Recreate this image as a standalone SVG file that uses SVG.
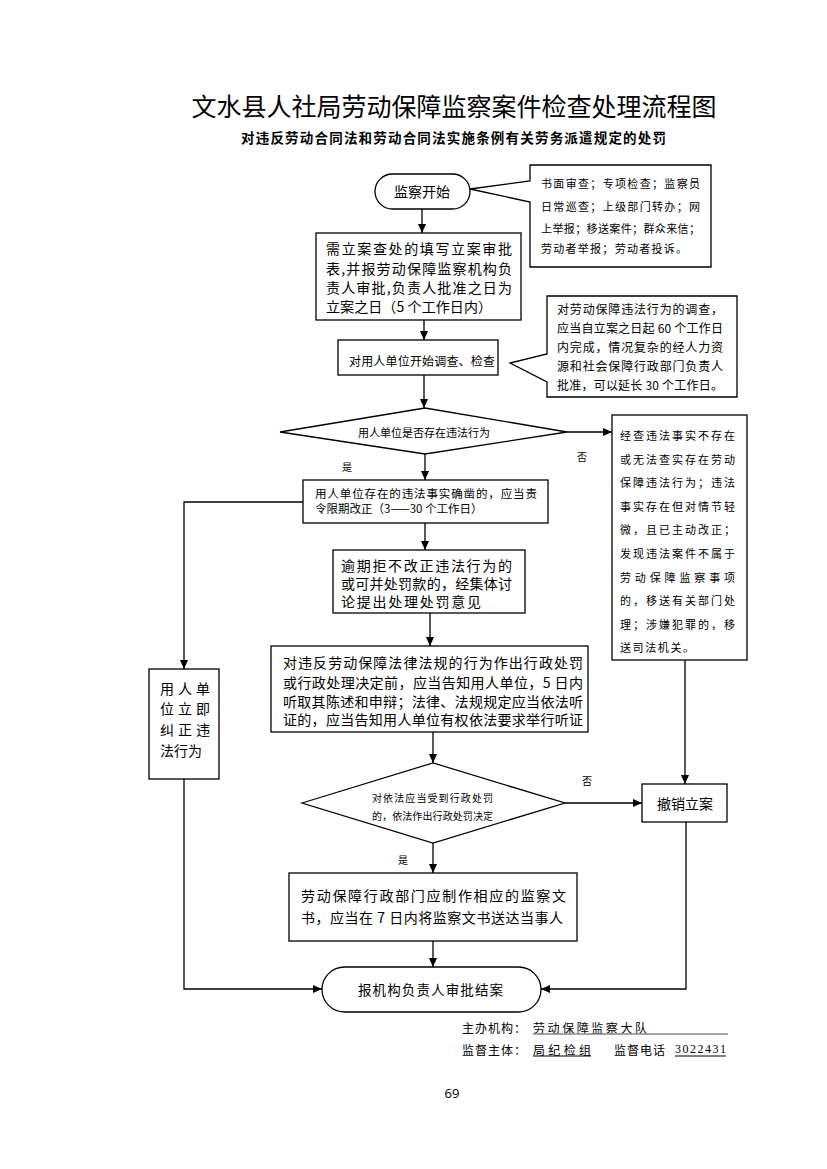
<svg xmlns="http://www.w3.org/2000/svg" width="827" height="1169" viewBox="0 0 827 1169">
<style>
text{font-family:"Noto Sans CJK SC","Noto Sans",sans-serif;fill:#000;dominant-baseline:central}
.box{fill:#fff;stroke:#000;stroke-width:1.3}
.ln{fill:none;stroke:#000;stroke-width:1.3}
.arr{marker-end:url(#ah)}
.c{text-anchor:middle}
.f15{font-size:15px}
.f14{font-size:14px}
.f12{font-size:12px}
.f11{font-size:11px}
.f10{font-size:10px}
</style>
<defs>
<marker id="ah" viewBox="0 0 10 10" refX="10" refY="5" markerWidth="9" markerHeight="8" markerUnits="userSpaceOnUse" orient="auto" preserveAspectRatio="none">
<path d="M0,0 L10,5 L0,10 z" fill="#000"/>
</marker>
</defs>
<rect width="827" height="1169" fill="#fff"/>

<g id="title">
<text x="454" y="105" class="c" style="font-size:25px">文水县人社局劳动保障监察案件检查处理流程图</text>
<text x="241" y="137" style="font-size:13.5px;font-weight:700" textLength="425" lengthAdjust="spacing">对违反劳动合同法和劳动合同法实施条例有关劳务派遣规定的处罚</text>
</g>

<g id="connectors">
<line class="ln arr" x1="422" y1="209" x2="422" y2="233"/>
<line class="ln arr" x1="424" y1="320" x2="424" y2="340"/>
<line class="ln arr" x1="424" y1="375" x2="424" y2="408"/>
<line class="ln arr" x1="567" y1="432" x2="612" y2="432"/>
<line class="ln arr" x1="425" y1="454" x2="425" y2="480"/>
<polyline class="ln arr" points="303,502 184,502 184,669"/>
<line class="ln arr" x1="425" y1="523" x2="425" y2="550"/>
<line class="ln arr" x1="430" y1="613" x2="430" y2="646"/>
<line class="ln arr" x1="433" y1="732" x2="433" y2="763"/>
<line class="ln arr" x1="685" y1="660" x2="685" y2="784"/>
<line class="ln arr" x1="565" y1="803" x2="642" y2="803"/>
<line class="ln arr" x1="433" y1="843" x2="433" y2="873"/>
<line class="ln arr" x1="433" y1="941" x2="433" y2="967"/>
<polyline class="ln arr" points="184,779 184,989 322,989"/>
<polyline class="ln arr" points="686,822 686,989 541,989"/>
<text x="582" y="456" class="f10 c">否</text>
<text x="347" y="466" class="f10 c">是</text>
<text x="587" y="780" class="f10 c">否</text>
<text x="403" y="859" class="f10 c">是</text>
</g>

<g id="start">
<rect class="box" x="375" y="174" width="95" height="35" rx="17.5"/>
<text x="422" y="191" class="f14 c">监察开始</text>
</g>

<g id="note1">
<path class="box" d="M530,181 V165 H711 V267 H530 V202 L470,189 Z"/>
<text x="541" y="183" class="f11" textLength="159" lengthAdjust="spacing">书面审查；专项检查；监察员</text>
<text x="541" y="206" class="f11" textLength="159" lengthAdjust="spacing">日常巡查；上级部门转办；网</text>
<text x="541" y="228" class="f11" textLength="159" lengthAdjust="spacing">上举报；移送案件；群众来信；</text>
<text x="541" y="248" class="f11" textLength="146" lengthAdjust="spacing">劳动者举报；劳动者投诉。</text>
</g>

<g id="register">
<rect class="box" x="316" y="233" width="205" height="87"/>
<text x="326" y="248" class="f14" textLength="186" lengthAdjust="spacing">需立案查处的填写立案审批</text>
<text x="326" y="268" class="f14" textLength="186" lengthAdjust="spacing">表,并报劳动保障监察机构负</text>
<text x="326" y="287" class="f14" textLength="186" lengthAdjust="spacing">责人审批,负责人批准之日为</text>
<text x="326" y="306" class="f14" textLength="166" lengthAdjust="spacing">立案之日（5 个工作日内）</text>
</g>

<g id="investigate">
<rect class="box" x="338" y="340" width="160" height="35"/>
<text x="349" y="360" class="f12" textLength="146" lengthAdjust="spacing">对用人单位开始调查、检查</text>
</g>

<g id="note2">
<path class="box" d="M547,354 V296 H737 V397 H547 V382 L510,363 Z"/>
<text x="557" y="308" class="f12" textLength="166" lengthAdjust="spacing">对劳动保障违法行为的调查，</text>
<text x="557" y="327" class="f12" textLength="166" lengthAdjust="spacing">应当自立案之日起 60 个工作日</text>
<text x="557" y="346" class="f12" textLength="166" lengthAdjust="spacing">内完成，情况复杂的经人力资</text>
<text x="557" y="365" class="f12" textLength="166" lengthAdjust="spacing">源和社会保障行政部门负责人</text>
<text x="557" y="384" class="f12" textLength="166" lengthAdjust="spacing">批准，可以延长 30 个工作日。</text>
</g>

<g id="decision1">
<polygon class="box" points="280,432 425,408 567,432 425,454"/>
<text x="424" y="432" class="f11 c">用人单位是否存在违法行为</text>
</g>

<g id="no-violation">
<rect class="box" x="612" y="415" width="135" height="245"/>
<text x="620" y="435" class="f11" textLength="115" lengthAdjust="spacing">经查违法事实不存在</text>
<text x="620" y="459" class="f11" textLength="115" lengthAdjust="spacing">或无法查实存在劳动</text>
<text x="620" y="482" class="f11" textLength="115" lengthAdjust="spacing">保障违法行为；违法</text>
<text x="620" y="506" class="f11" textLength="115" lengthAdjust="spacing">事实存在但对情节轻</text>
<text x="620" y="529" class="f11" textLength="115" lengthAdjust="spacing">微，且已主动改正；</text>
<text x="620" y="553" class="f11" textLength="115" lengthAdjust="spacing">发现违法案件不属于</text>
<text x="620" y="577" class="f11" textLength="115" lengthAdjust="spacing">劳动保障监察事项</text>
<text x="620" y="600" class="f11" textLength="115" lengthAdjust="spacing">的，移送有关部门处</text>
<text x="620" y="624" class="f11" textLength="115" lengthAdjust="spacing">理；涉嫌犯罪的，移</text>
<text x="620" y="647" class="f11" textLength="74" lengthAdjust="spacing">送司法机关。</text>
</g>

<g id="order-correct">
<rect class="box" x="303" y="480" width="245" height="43"/>
<text x="315" y="493" style="font-size:11.5px" textLength="222" lengthAdjust="spacing">用人单位存在的违法事实确凿的，应当责</text>
<text x="315" y="508" style="font-size:11.5px">令限期改正（3——30 个工作日）</text>
</g>

<g id="immediate">
<rect class="box" x="149" y="669" width="70" height="110"/>
<text x="160" y="688" class="f14" textLength="50" lengthAdjust="spacing">用人单</text>
<text x="160" y="708" class="f14" textLength="50" lengthAdjust="spacing">位立即</text>
<text x="160" y="729" class="f14" textLength="50" lengthAdjust="spacing">纠正违</text>
<text x="160" y="750" class="f14">法行为</text>
</g>

<g id="penalty-opinion">
<rect class="box" x="333" y="550" width="192" height="63"/>
<text x="341" y="565" class="f14" textLength="171" lengthAdjust="spacing">逾期拒不改正违法行为的</text>
<text x="341" y="583" class="f14" textLength="171" lengthAdjust="spacing">或可并处罚款的，经集体讨</text>
<text x="341" y="601" class="f14" textLength="140" lengthAdjust="spacing">论提出处理处罚意见</text>
</g>

<g id="notify">
<rect class="box" x="271" y="646" width="317" height="86"/>
<text x="283" y="662" class="f14" textLength="300" lengthAdjust="spacing">对违反劳动保障法律法规的行为作出行政处罚</text>
<text x="283" y="682" class="f14" textLength="300" lengthAdjust="spacing">或行政处理决定前，应当告知用人单位，5 日内</text>
<text x="283" y="701" class="f14" textLength="300" lengthAdjust="spacing">听取其陈述和申辩；法律、法规规定应当依法听</text>
<text x="283" y="719" class="f14" textLength="300" lengthAdjust="spacing">证的，应当告知用人单位有权依法要求举行听证</text>
</g>

<g id="decision2">
<polygon class="box" points="302,803 433,763 565,803 433,843"/>
<text x="372" y="797" class="f10" textLength="121" lengthAdjust="spacing">对依法应当受到行政处罚</text>
<text x="372" y="815" class="f10" textLength="121" lengthAdjust="spacing">的，依法作出行政处罚决定</text>
</g>

<g id="revoke">
<rect class="box" x="642" y="784" width="85" height="38"/>
<text x="685" y="803" class="f14 c">撤销立案</text>
</g>

<g id="documents">
<rect class="box" x="289" y="873" width="288" height="68"/>
<text x="301" y="895" class="f14" textLength="265" lengthAdjust="spacing">劳动保障行政部门应制作相应的监察文</text>
<text x="301" y="917" class="f14" textLength="262" lengthAdjust="spacing">书，应当在 7 日内将监察文书送达当事人</text>
</g>

<g id="end">
<rect class="box" x="322" y="967" width="219" height="45" rx="22.5"/>
<text x="358" y="989" style="font-size:13.5px" textLength="145" lengthAdjust="spacing">报机构负责人审批结案</text>
</g>

<g id="footer">
<text x="462" y="1027" class="f12" textLength="64" lengthAdjust="spacing">主办机构：</text>
<text x="533" y="1027" class="f12" textLength="114" lengthAdjust="spacing">劳动保障监察大队</text>
<line x1="533" y1="1034" x2="728" y2="1034" stroke="#888" stroke-width="1.5"/>
<text x="462" y="1049" class="f12" textLength="64" lengthAdjust="spacing">监督主体：</text>
<text x="533" y="1049" class="f12" textLength="58" lengthAdjust="spacing">局纪检组</text>
<line x1="533" y1="1056" x2="591" y2="1056" stroke="#000" stroke-width="1"/>
<text x="614" y="1049" class="f12" textLength="51" lengthAdjust="spacing">监督电话</text>
<text x="675" y="1049" class="f12" style="font-family:'Liberation Serif',serif" textLength="51" lengthAdjust="spacing">3022431</text>
<line x1="675" y1="1056" x2="726" y2="1056" stroke="#000" stroke-width="1"/>
<text x="452" y="1093" class="c" style="font-family:'Open Sans','Noto Sans',sans-serif;font-size:13px">69</text>
</g>
</svg>
